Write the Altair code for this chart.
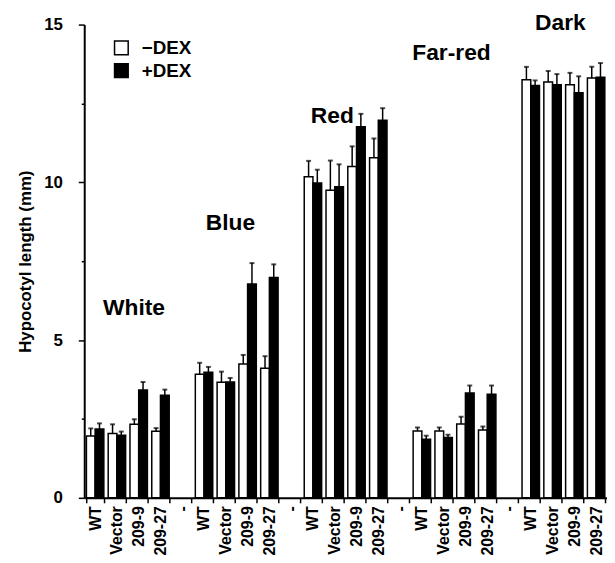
import altair as alt
import pandas as pd

groups = ["White", "Blue", "Red", "Far-red", "Dark"]
strains = ["WT", "Vector", "209-9", "209-27"]
dex_levels = ["\u2212DEX", "+DEX"]

# mean hypocotyl length (mm), per group, per strain
minus_mean = [
    [1.96, 2.04, 2.33, 2.11],
    [3.92, 3.66, 4.24, 4.11],
    [10.18, 9.75, 10.50, 10.78],
    [2.12, 2.12, 2.34, 2.15],
    [13.25, 13.18, 13.09, 13.31],
]
plus_mean = [
    [2.18, 1.98, 3.42, 3.25],
    [3.98, 3.67, 6.78, 6.98],
    [9.98, 9.86, 11.76, 11.97],
    [1.86, 1.91, 3.32, 3.28],
    [13.07, 13.09, 12.84, 13.33],
]
minus_err = [
    [0.24, 0.29, 0.16, 0.10],
    [0.36, 0.34, 0.29, 0.38],
    [0.50, 0.94, 0.64, 0.61],
    [0.11, 0.11, 0.23, 0.11],
    [0.41, 0.35, 0.38, 0.35],
]
plus_err = [
    [0.18, 0.12, 0.25, 0.18],
    [0.17, 0.13, 0.66, 0.42],
    [0.42, 0.71, 0.41, 0.38],
    [0.11, 0.09, 0.24, 0.28],
    [0.16, 0.34, 0.52, 0.45],
]

# group label annotations: anchor strain slot and height (mm)
label_anchor = ["209-9", "Vector", "Vector", "Vector", "Vector"]
label_band = [0.23, 0.77, 0.36, 0.95, 0.95]
label_y = [6.0, 8.7, 12.1, 14.09, 15.04]

# build slot domain (with separators between groups)
slots = []
for gi, g in enumerate(groups):
    for s in strains:
        slots.append(f"{g}|{s}")
    if gi < len(groups) - 1:
        slots.append(f"sep{gi}|-")

rows = []
for gi, g in enumerate(groups):
    for si, s in enumerate(strains):
        rows.append(dict(slot=f"{g}|{s}", dex=dex_levels[0],
                         val=minus_mean[gi][si], top=minus_mean[gi][si] + minus_err[gi][si]))
        rows.append(dict(slot=f"{g}|{s}", dex=dex_levels[1],
                         val=plus_mean[gi][si], top=plus_mean[gi][si] + plus_err[gi][si]))
df = pd.DataFrame(rows)

FONT = "Liberation Sans"
x_scale = alt.Scale(domain=slots, paddingInner=0.2, paddingOuter=0.1)

x_enc = alt.X(
    "slot:N",
    scale=x_scale,
    axis=alt.Axis(
        title=None,
        labelExpr="split(datum.label, '|')[1]",
        labelAngle=-90,
        labelFont=FONT,
        labelFontWeight="bold",
        labelFontSize=16,
        labelColor="black",
        labelPadding=3,
        tickBand="extent",
        tickSize=5,
        tickColor="black",
        tickWidth=1.5,
        domainColor="black",
        domainWidth=2,
        labelBaseline="middle",
    ),
)
xoff = alt.XOffset("dex:N", scale=alt.Scale(domain=dex_levels, paddingInner=0, paddingOuter=0))
y_scale = alt.Scale(domain=[0, 15], nice=False)

bars = alt.Chart(df).mark_bar(stroke="black", strokeWidth=1.5).encode(
    x=x_enc,
    xOffset=xoff,
    y=alt.Y(
        "val:Q",
        scale=y_scale,
        axis=alt.Axis(
            title="Hypocotyl length (mm)",
            values=[0, 2.5, 5, 7.5, 10, 12.5, 15],
            labelExpr="datum.value % 5 === 0 ? datum.label : ''",
            tickSize={"condition": {"test": "datum.value % 5 === 0", "value": 6}, "value": 3},
            tickColor="black",
            tickWidth=1.5,
            domainColor="black",
            domainWidth=2,
            grid=False,
            labelFont=FONT,
            labelFontWeight="bold",
            labelFontSize=17,
            labelColor="black",
            labelPadding=16,
            titleFont=FONT,
            titleFontWeight="bold",
            titleFontSize=17,
            titleColor="black",
            titlePadding=9,
        ),
    ),
    fill=alt.Fill(
        "dex:N",
        scale=alt.Scale(domain=dex_levels, range=["white", "black"]),
        legend=alt.Legend(
            title=None,
            orient="none",
            legendX=28,
            legendY=14,
            symbolType="square",
            symbolSize=190,
            symbolStrokeColor="black",
            symbolStrokeWidth=1.5,
            labelFont=FONT,
            labelFontWeight="bold",
            labelFontSize=19,
            labelColor="black",
            labelOffset=11,
            rowPadding=2,
        ),
    ),
)

err_rule = alt.Chart(df).mark_rule(color="black", strokeWidth=1.5).encode(
    x=alt.X("slot:N", scale=x_scale),
    xOffset=xoff,
    y=alt.Y("val:Q", scale=y_scale),
    y2="top:Q",
)
err_cap = alt.Chart(df).mark_tick(color="black", thickness=2, size=5).encode(
    x=alt.X("slot:N", scale=x_scale),
    xOffset=xoff,
    y=alt.Y("top:Q", scale=y_scale),
)

layers = [bars, err_rule, err_cap]
for g, anc, bp, yv in zip(groups, label_anchor, label_band, label_y):
    ldf = pd.DataFrame([dict(slot=f"{g}|{anc}", y=yv, text=g)])
    layers.append(
        alt.Chart(ldf).mark_text(
            font=FONT, fontWeight="bold", fontSize=23, color="black", align="center", baseline="middle"
        ).encode(
            x=alt.X("slot:N", bandPosition=bp, scale=x_scale),
            y=alt.Y("y:Q", scale=y_scale),
            text="text:N",
        )
    )

chart = alt.layer(*layers).properties(
    width=528,
    height=478,
    autosize=alt.AutoSizeParams(type="none"),
    padding={"left": 77, "top": 14, "right": 0, "bottom": 55},
    background="white",
).configure_view(stroke=None)

chart.save("out.html", embed_options={"renderer": "svg", "actions": False})
